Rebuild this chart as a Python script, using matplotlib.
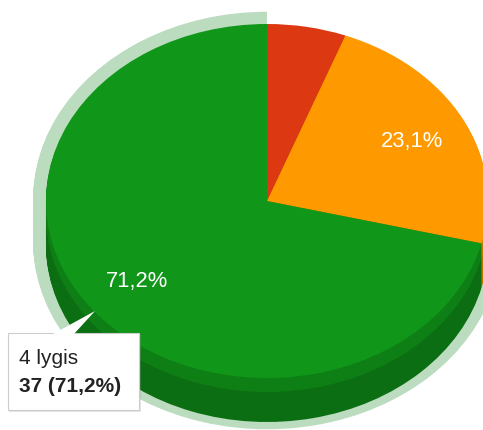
import matplotlib
matplotlib.use("Agg")
import matplotlib.pyplot as plt
from matplotlib.patches import Rectangle, Polygon

plt.rcParams['font.family'] = ['Liberation Sans', 'DejaVu Sans']

# ---- data ----
categories = ["1 lygis", "3 lygis", "4 lygis"]
counts = [3, 12, 37]
colors = ["#dc3912", "#ff9900", "#109618"]
side_upper = ["#b02e0e", "#cc7a00", "#0e7f15"]
side_lower = ["#a52b0e", "#bf7300", "#0c6e12"]
halo_color = "#bbdcbf"
selected = 2

# ---- pie placement in pixels ----
W, H = 483, 430
cx, cy = 267, 201
rx, ry = 221, 177
depth = 44
band = 14

total = sum(counts)
labels = [f"{c / total * 100:.1f}%".replace(".", ",") for c in counts]

fig = plt.figure(figsize=(W / 100, H / 100), dpi=100)
ax = fig.add_axes([0, 0, 1, 1])


def draw_pie(drop, cols, radius=1.0):
    ax.pie(counts, colors=cols, startangle=90, counterclock=False, radius=radius,
           center=(0, -drop / ry), wedgeprops={"linewidth": 0})


# halo round the selected slice, then the side (two tones), then the top
halo = ["none", "none", halo_color]
for d in range(-2, 42):
    draw_pie(d, halo, radius=1.058)
for d in range(depth, band, -1):
    draw_pie(d, side_lower)
for d in range(band, 0, -1):
    draw_pie(d, side_upper)
draw_pie(0, colors)

# pie() resets the axes, so the scale is set last: one unit = rx / ry pixels
ax.set_aspect("auto")
ax.set_xlim(-cx / rx, (W - cx) / rx)
ax.set_ylim((cy - H) / ry, cy / ry)

# overlay in pixel coordinates for the labels and tooltip
top = fig.add_axes([0, 0, 1, 1])
top.set_xlim(0, W)
top.set_ylim(H, 0)
top.axis("off")
top.patch.set_alpha(0)

top.text(412, 142, labels[1], color="white", fontsize=15.8, ha="center", va="center")
top.text(137, 281, labels[2], color="white", fontsize=15.8, ha="center", va="center")

# tooltip
top.add_patch(Rectangle((9, 334), 132, 78, facecolor="#999999", alpha=0.25, edgecolor="none"))
top.add_patch(Rectangle((8, 333), 131, 77, facecolor="white", edgecolor="#cccccc", linewidth=0.8))
top.add_patch(Polygon([(53, 334), (95, 311), (74, 334)], closed=True, facecolor="white", edgecolor="none"))
top.text(19, 358, categories[selected], color="#222222", fontsize=15, ha="left", va="center")
top.text(19, 386, f"{counts[selected]} ({labels[selected]})", color="#222222", fontsize=15,
         fontweight="bold", ha="left", va="center")

fig.savefig("out.png", dpi=100)
